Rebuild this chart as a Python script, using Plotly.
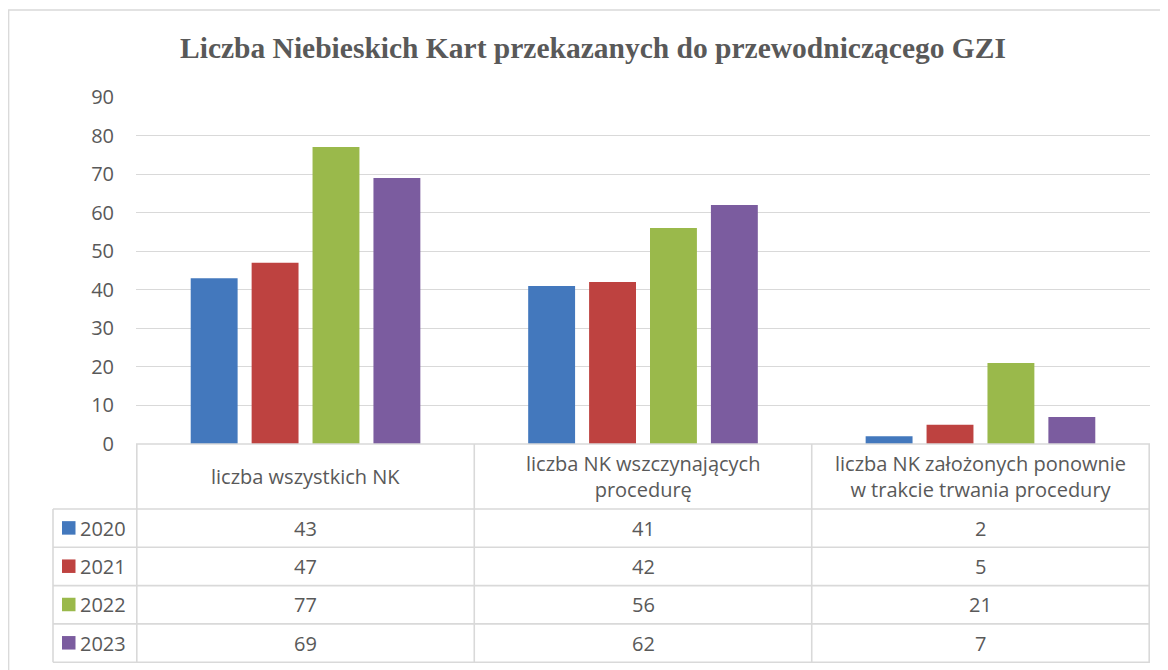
import plotly.graph_objects as go

# data
categories = ["liczba wszystkich NK",
              "liczba NK wszczynających procedurę",
              "liczba NK założonych ponownie w trakcie trwania procedury"]
header_labels = ["liczba wszystkich NK",
                 "liczba NK wszczynających<br>procedurę",
                 "liczba NK założonych ponownie<br>w trakcie trwania procedury"]
years = ["2020", "2021", "2022", "2023"]
v2020 = [43, 41, 2]
v2021 = [47, 42, 5]
v2022 = [77, 56, 21]
v2023 = [69, 62, 7]
series = [v2020, v2021, v2022, v2023]
colors = ["#4378BD", "#BE4240", "#9AB94B", "#7B5C9F"]

# page geometry (pixels, page coords; figure sits 8px in from body margin)
OFF = 8
W, H = 1168 - OFF, 670 - OFF
PL, PR, PT, PB = 136, 1150, 97, 444
pw, ph = PR - PL, PB - PT


def px(x):
    return (x - PL) / pw


def py(y):
    return (PB - y) / ph


txt = "#595959"
grid = "#d9d9d9"
font = "Open Sans, Liberation Sans, sans-serif"
fs = 20

fig = go.Figure()
for name, vals, c in zip(years, series, colors):
    fig.add_trace(go.Bar(x=categories, y=vals, name=name, marker_color=c,
                         marker_line_width=0))

fig.update_layout(
    width=W, height=H,
    margin=dict(l=PL - OFF, r=1168 - PR, t=PT - OFF, b=670 - PB),
    paper_bgcolor="white", plot_bgcolor="white",
    barmode="group", bargap=0.278, bargroupgap=0.23,
    showlegend=False,
    font=dict(family=font, color=txt, size=fs),
    title=dict(text="<b>Liczba Niebieskich Kart przekazanych do przewodniczącego GZI</b>",
               x=(593 - OFF) / W, xanchor="center", y=1 - (48 - OFF) / H, yanchor="middle",
               font=dict(family="Liberation Serif, Times New Roman, serif", size=29.5, color=txt)),
    xaxis=dict(showticklabels=False, showgrid=False, zeroline=False, showline=False),
    yaxis=dict(range=[0, 90], dtick=10, showgrid=True, gridcolor=grid, gridwidth=1.3,
               zeroline=False, showline=False, ticks="", ticklabelstandoff=21,
               tickfont=dict(size=fs, color=txt)),
)

# table layout (pixel rows)
header_bottom = 509
row_h = 38.3
legend_left = 53
table_bottom = header_bottom + row_h * len(years)
line = dict(color=grid, width=1.6)

shapes = []
# outer chart border
shapes.append(dict(type="rect", xref="paper", yref="paper",
                   x0=px(OFF + 0.7), x1=px(1180), y0=py(10), y1=py(690),
                   line=dict(color=grid, width=1.3)))
# top of table (axis line)
shapes.append(dict(type="line", xref="paper", yref="paper",
                   x0=0, x1=1, y0=0, y1=0, line=line))
# horizontal row lines
for i in range(len(years) + 1):
    y = header_bottom + i * row_h
    shapes.append(dict(type="line", xref="paper", yref="paper",
                       x0=px(legend_left), x1=1, y0=py(y), y1=py(y), line=line))
# vertical column lines
for i in range(len(categories) + 1):
    shapes.append(dict(type="line", xref="x", yref="paper",
                       x0=i - 0.5, x1=i - 0.5, y0=0, y1=py(table_bottom), line=line))
shapes.append(dict(type="line", xref="paper", yref="paper",
                   x0=px(legend_left), x1=px(legend_left),
                   y0=py(header_bottom), y1=py(table_bottom), line=line))

annotations = []
# header labels
for i, lab in enumerate(header_labels):
    annotations.append(dict(xref="x", yref="paper", x=i, y=py((PB + header_bottom) / 2),
                            text=lab, showarrow=False, xanchor="center", yanchor="middle",
                            font=dict(size=fs, color=txt)))
# rows
for r, (name, vals, c) in enumerate(zip(years, series, colors)):
    yc = header_bottom + (r + 0.5) * row_h
    shapes.append(dict(type="rect", xref="paper", yref="paper",
                       x0=px(62), x1=px(75.5), y0=py(yc - 7), y1=py(yc + 6.5),
                       fillcolor=c, line=dict(width=0)))
    annotations.append(dict(xref="paper", yref="paper", x=px(78), y=py(yc),
                            text=name, showarrow=False, xanchor="left", yanchor="middle",
                            font=dict(size=fs, color=txt)))
    for i, v in enumerate(vals):
        annotations.append(dict(xref="x", yref="paper", x=i, y=py(yc),
                                text=str(v), showarrow=False, xanchor="center",
                                yanchor="middle", font=dict(size=fs, color=txt)))

fig.update_layout(shapes=shapes, annotations=annotations)

fig.write_html("out.html")
